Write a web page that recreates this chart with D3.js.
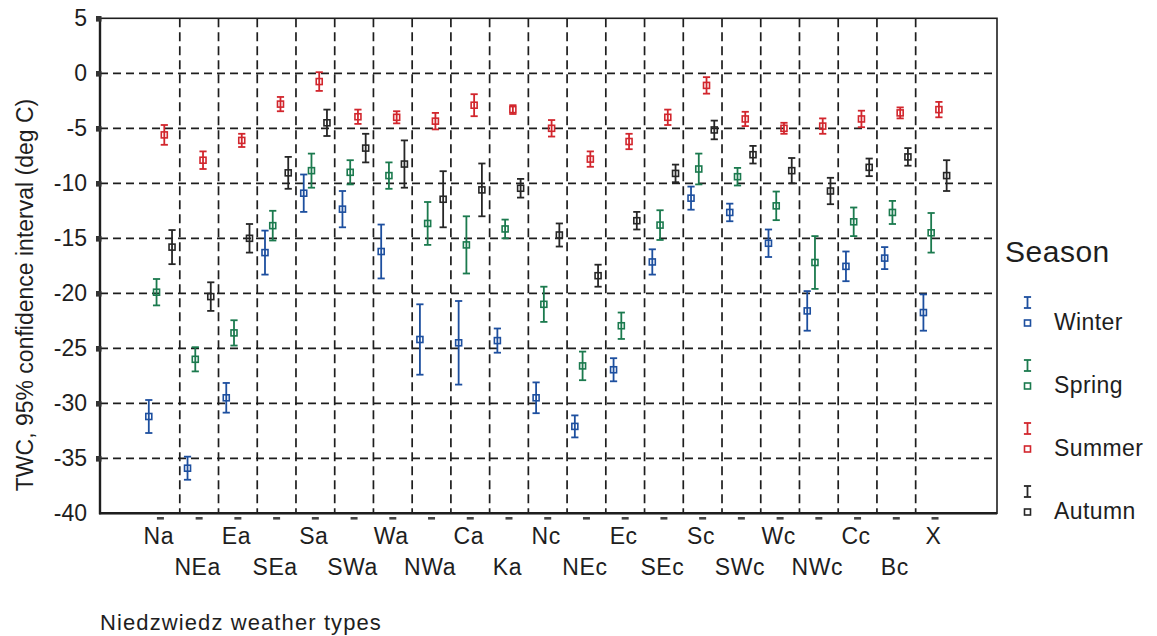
<!DOCTYPE html>
<html>
<head>
<meta charset="utf-8">
<script src="https://cdn.jsdelivr.net/npm/d3@7"></script>
<style>
  html, body { margin: 0; padding: 0; background: #fff; }
  svg { display: block; font-family: "Liberation Sans", Arial, Helvetica, sans-serif; }
</style>
</head>
<body>
<svg id="chart" width="1157" height="636"></svg>
<script>
// Niedzwiedz circulation types
const categories = ["Na", "NEa", "Ea", "SEa", "Sa", "SWa", "Wa", "NWa", "Ca", "Ka",
  "Nc", "NEc", "Ec", "SEc", "Sc", "SWc", "Wc", "NWc", "Cc", "Bc", "X"];

const seasons = ["Winter", "Spring", "Summer", "Autumn"];
const seasonColors = ["#1d4f9f", "#1b7a4e", "#d2262d", "#262626"];

// Mean TWC (deg C) and half-width of the 95% confidence interval
const winterMean = [-31.2, -35.9, -29.5, -16.3, -10.9, -12.35, -16.2, -24.2, -24.5, -24.3,
  -29.5, -32.1, -26.95, -17.15, -11.35, -12.65, -15.45, -21.6, -17.55, -16.8, -21.75];
const winterCI = [1.5, 1.05, 1.35, 2.0, 1.7, 1.65, 2.45, 3.2, 3.8, 1.1,
  1.4, 1.0, 1.05, 1.15, 1.05, 0.8, 1.25, 1.8, 1.35, 1.0, 1.65];

const springMean = [-19.9, -26.0, -23.6, -13.85, -8.85, -9.0, -9.3, -13.65, -15.6, -14.15,
  -21.0, -26.6, -22.95, -13.8, -8.7, -9.4, -12.05, -17.2, -13.5, -12.65, -14.5];
const springCI = [1.2, 1.1, 1.15, 1.35, 1.55, 1.1, 1.2, 1.95, 2.6, 0.85,
  1.6, 1.3, 1.2, 1.35, 1.4, 0.8, 1.3, 2.4, 1.3, 1.05, 1.8];

const summerMean = [-5.6, -7.9, -6.1, -2.8, -0.75, -3.95, -4.0, -4.35, -2.9, -3.3,
  -5.0, -7.8, -6.2, -4.0, -1.1, -4.15, -5.0, -4.8, -4.15, -3.6, -3.3];
const summerCI = [0.9, 0.8, 0.6, 0.65, 0.85, 0.65, 0.55, 0.75, 1.0, 0.4,
  0.75, 0.7, 0.7, 0.7, 0.75, 0.65, 0.5, 0.7, 0.75, 0.5, 0.7];

const autumnMean = [-15.8, -20.3, -15.0, -9.05, -4.5, -6.8, -8.25, -11.45, -10.6, -10.45,
  -14.7, -18.4, -13.4, -9.1, -5.15, -7.4, -8.85, -10.7, -8.55, -7.6, -9.3];
const autumnCI = [1.55, 1.3, 1.3, 1.45, 1.2, 1.3, 2.15, 2.55, 2.4, 0.85,
  1.05, 1.0, 0.8, 0.8, 0.85, 0.8, 1.15, 1.2, 0.8, 0.8, 1.4];

const yTicks = [5, 0, -5, -10, -15, -20, -25, -30, -35, -40];

const seriesMeans = [winterMean, springMean, summerMean, autumnMean];
const seriesCI = [winterCI, springCI, summerCI, autumnCI];

const svg = d3.select("#chart");
const plotLeft = 100, plotRight = 997, plotTop = 18.3, plotBottom = 513.3;

const x = d3.scaleLinear().domain([-1.56, categories.length - 1 + 1.6]).range([plotLeft, plotRight]);
const y = d3.scaleLinear().domain([-40, 5]).range([plotBottom, plotTop]);
const seasonOffset = d3.scaleLinear().domain([0, 3]).range([-0.3, 0.3]); // in category units

const ink = "#1e1e1e";

// dashed grid
const grid = svg.append("g");
grid.selectAll("line.h")
  .data(yTicks.filter(v => v < 5 && v > -40))
  .join("line")
  .attr("class", "h")
  .attr("x1", plotLeft).attr("x2", plotRight)
  .attr("y1", d => y(d)).attr("y2", d => y(d))
  .attr("stroke", ink).attr("stroke-width", 1.7)
  .attr("stroke-dasharray", "8,5");
grid.selectAll("line.v")
  .data(d3.range(categories.length - 1).map(i => i + 0.5))
  .join("line")
  .attr("class", "v")
  .attr("x1", d => x(d)).attr("x2", d => x(d))
  .attr("y1", plotTop).attr("y2", plotBottom)
  .attr("stroke", ink).attr("stroke-width", 1.7)
  .attr("stroke-dasharray", "9,5");

// frame
svg.append("rect")
  .attr("x", plotLeft).attr("y", plotTop)
  .attr("width", plotRight - plotLeft).attr("height", plotBottom - plotTop)
  .attr("fill", "none").attr("stroke", ink).attr("stroke-width", 1.6);
svg.append("line").attr("x1", plotLeft).attr("x2", plotLeft).attr("y1", plotTop).attr("y2", plotBottom + 1)
  .attr("stroke", ink).attr("stroke-width", 2.4);
svg.append("line").attr("x1", plotLeft - 1).attr("x2", plotRight).attr("y1", plotBottom).attr("y2", plotBottom)
  .attr("stroke", ink).attr("stroke-width", 2.4);

// y axis: square tick marks and labels
const yAxis = d3.axisLeft(y).tickValues(yTicks).tickSize(0).tickPadding(13);
const yg = svg.append("g").attr("transform", `translate(${plotLeft},0)`).call(yAxis);
yg.select(".domain").remove();
yg.selectAll(".tick text")
  .attr("font-size", 23).attr("fill", ink)
  .attr("font-family", "'Liberation Sans', Arial, sans-serif")
  .text(d => d < 0 ? "-" + Math.abs(d) : String(d));
yg.selectAll(".tick").filter(d => d > -40)
  .append("rect")
  .attr("x", -4).attr("y", -2.8).attr("width", 5.5).attr("height", 5.6)
  .attr("fill", "#333");

// x axis: short dashes under each category plus staggered labels
const xg = svg.append("g");
xg.selectAll("line")
  .data(categories)
  .join("line")
  .attr("x1", (d, i) => x(i) - 3.5).attr("x2", (d, i) => x(i) + 3.5)
  .attr("y1", plotBottom + 5).attr("y2", plotBottom + 5)
  .attr("stroke", "#444").attr("stroke-width", 2.6);
xg.selectAll("text")
  .data(categories)
  .join("text")
  .attr("x", (d, i) => x(i) - 1.5)
  .attr("y", (d, i) => i % 2 === 0 ? 543.5 : 575)
  .attr("text-anchor", "middle")
  .attr("font-size", 23).attr("fill", ink)
  .attr("letter-spacing", 0.6)
  .text(d => d);

// error bars with open square markers
const capHalf = 3.6, sq = 6;
seasons.forEach((s, k) => {
  const color = seasonColors[k];
  const g = svg.append("g").attr("class", "series-" + s);
  const data = categories.map((c, i) => ({
    i, mean: seriesMeans[k][i], ci: seriesCI[k][i]
  }));
  const px = d => x(d.i + seasonOffset(k));
  const item = g.selectAll("g").data(data).join("g");
  item.append("line")
    .attr("x1", px).attr("x2", px)
    .attr("y1", d => y(d.mean + d.ci)).attr("y2", d => y(d.mean - d.ci))
    .attr("stroke", color).attr("stroke-width", 1.8);
  item.append("line")
    .attr("x1", d => px(d) - capHalf).attr("x2", d => px(d) + capHalf)
    .attr("y1", d => y(d.mean + d.ci)).attr("y2", d => y(d.mean + d.ci))
    .attr("stroke", color).attr("stroke-width", 1.8);
  item.append("line")
    .attr("x1", d => px(d) - capHalf).attr("x2", d => px(d) + capHalf)
    .attr("y1", d => y(d.mean - d.ci)).attr("y2", d => y(d.mean - d.ci))
    .attr("stroke", color).attr("stroke-width", 1.8);
  item.append("rect")
    .attr("x", d => px(d) - sq / 2).attr("y", d => y(d.mean) - sq / 2)
    .attr("width", sq).attr("height", sq)
    .attr("fill", "none").attr("stroke", color).attr("stroke-width", 1.6);
});

// axis titles
svg.append("text")
  .attr("transform", "translate(33,295) rotate(-90)")
  .attr("text-anchor", "middle")
  .attr("font-size", 23).attr("fill", ink)
  .text("TWC, 95% confidence interval (deg C)");
svg.append("text")
  .attr("x", 100).attr("y", 630)
  .attr("font-size", 22).attr("fill", ink)
  .attr("letter-spacing", 1.1)
  .text("Niedzwiedz weather types");

// legend
const lg = svg.append("g");
lg.append("text")
  .attr("x", 1005).attr("y", 262)
  .attr("font-size", 30).attr("fill", ink)
  .attr("letter-spacing", 0.5)
  .text("Season");
const lx = 1027.5;
seasons.forEach((s, k) => {
  const base = 297 + k * 63;
  const c = seasonColors[k];
  const e = lg.append("g");
  e.append("line").attr("x1", lx).attr("x2", lx).attr("y1", base).attr("y2", base + 11)
    .attr("stroke", c).attr("stroke-width", 1.8);
  e.append("line").attr("x1", lx - capHalf).attr("x2", lx + capHalf).attr("y1", base).attr("y2", base)
    .attr("stroke", c).attr("stroke-width", 1.8);
  e.append("line").attr("x1", lx - capHalf).attr("x2", lx + capHalf).attr("y1", base + 11).attr("y2", base + 11)
    .attr("stroke", c).attr("stroke-width", 1.8);
  e.append("rect").attr("x", lx - sq / 2).attr("y", base + 26 - sq / 2)
    .attr("width", sq).attr("height", sq)
    .attr("fill", "none").attr("stroke", c).attr("stroke-width", 1.6);
  e.append("text").attr("x", 1054).attr("y", base + 33)
    .attr("font-size", 23).attr("fill", ink)
    .attr("letter-spacing", 0.4)
    .text(s);
});
</script>
</body>
</html>
